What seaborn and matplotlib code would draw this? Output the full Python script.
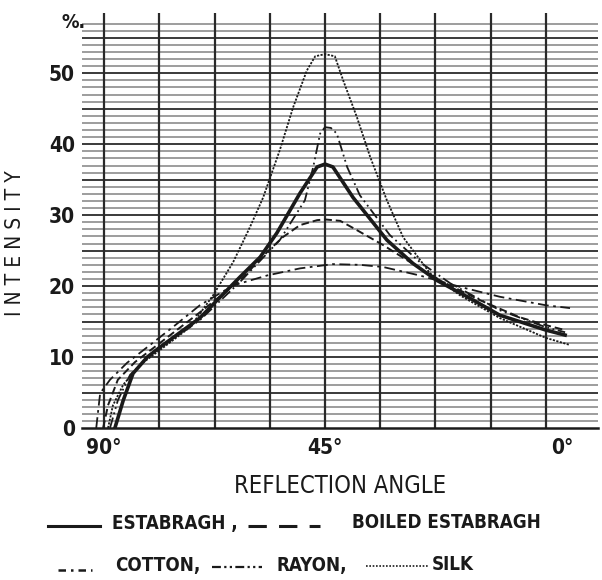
import matplotlib
matplotlib.use("Agg")
import matplotlib.pyplot as plt
import matplotlib.transforms as mtransforms
import seaborn as sns
import pandas as pd
from matplotlib.lines import Line2D

# values (angle in degrees, intensity in %)
silkAngle = [89.2, 88.2, 86.1, 82.7, 78.6, 72.5, 67.8, 63.7, 60.3, 57.6, 54.2, 51.5, 48.7, 47.0, 45.0, 43.0, 41.3, 38.5, 35.8, 32.4, 29.1, 23.6, 17.5, 9.4, 0.0, -4.9]
silkInt = [0, 3.2, 6.1, 8.9, 11.0, 14.2, 18.7, 23.4, 28.3, 32.5, 39.2, 45.2, 50.4, 52.4, 52.7, 52.4, 49.0, 43.8, 38.2, 32.1, 26.9, 21.8, 18.7, 15.5, 12.7, 11.7]

estAngle = [87.8, 86.1, 84.1, 81.2, 78.6, 70.5, 67.0, 62.3, 58.2, 54.8, 50.1, 46.6, 45.0, 43.4, 39.3, 32.4, 27.1, 22.2, 15.5, 9.4, 0.0, -3.9]
estInt = [0, 3.9, 7.7, 10.0, 11.4, 15.5, 18.0, 21.3, 24.1, 27.5, 33.1, 36.8, 37.2, 36.8, 32.5, 26.5, 23.2, 20.8, 18.3, 15.9, 13.8, 13.1]

rayonAngle = [88.8, 87.2, 84.7, 80.6, 70.5, 62.3, 54.2, 49.1, 47.4, 46.0, 45.0, 43.8, 42.6, 40.5, 37.9, 31.8, 25.7, 19.5, 9.4, 0.0, -3.9]
rayonInt = [0, 3.9, 7.5, 10.3, 15.2, 20.6, 26.5, 32.1, 36.8, 41.5, 42.4, 42.3, 41.5, 36.8, 32.8, 27.2, 23.4, 20.4, 16.6, 14.2, 13.5]

boiledAngle = [90.2, 89.2, 87.2, 83.7, 78.6, 70.5, 62.3, 56.8, 53.6, 50.1, 46.6, 45.0, 41.9, 39.3, 33.2, 27.7, 21.6, 13.4, 5.3, 0.0, -3.9]
boiledInt = [0, 3.2, 6.8, 9.3, 12.0, 16.3, 20.8, 24.8, 26.9, 28.6, 29.3, 29.4, 29.2, 28.2, 25.8, 23.4, 20.8, 18.0, 15.6, 14.5, 13.8]

cottonAngle = [91.6, 91.2, 90.8, 88.8, 85.3, 81.2, 75.5, 70.5, 63.7, 56.8, 50.1, 43.4, 37.9, 33.2, 25.7, 17.5, 9.4, 0.0, -4.9]
cottonInt = [0, 2.5, 4.9, 6.8, 9.2, 11.4, 14.5, 17.3, 20.1, 21.5, 22.5, 23.1, 23.0, 22.7, 21.5, 19.9, 18.5, 17.3, 16.9]

xTicks = [90, 45, 0]
xTickLabels = ["90°", "45°", "0°"]
yTicks = [0, 10, 20, 30, 40, 50]

ink = "#1a1a1a"
plain = dict(family=["DejaVu Sans"], fontstretch="condensed", color=ink)
heavy = dict(plain, fontweight="bold")

fig = plt.figure(figsize=(6.02, 5.80), dpi=100)
ax = fig.add_axes([82 / 602, 1 - 428 / 580, (598 - 82) / 602, (428 - 13) / 580])

# background chart paper
for v in range(1, 58):
    if v % 5 == 0:
        ax.axhline(v, color="#3a3a3a", lw=1.4, zorder=1)
    else:
        ax.axhline(v, color="#8c8c8c", lw=1.2, zorder=1)
for k in range(0, 9):
    ax.axvline(k * 11.25, color="#2a2a2a", lw=1.6, zorder=1)

# curves
curves = [
    ("Silk", silkAngle, silkInt, 1.3, (0, (1.2, 0.8))),
    ("Rayon", rayonAngle, rayonInt, 1.3, (0, (6, 2, 1, 2, 1, 2))),
    ("Cotton", cottonAngle, cottonInt, 1.3, (0, (6, 2.5, 1.5, 2.5))),
    ("Boiled Estabragh", boiledAngle, boiledInt, 1.4, (0, (4, 2))),
    ("Estabragh", estAngle, estInt, 2.6, "-"),
]
for name, a, i, w, ls in curves:
    df = pd.DataFrame({"angle": a, "intensity": i})
    sns.lineplot(data=df, x="angle", y="intensity", ax=ax, color=ink, lw=w,
                 linestyle=ls, estimator=None, sort=False, zorder=3)

ax.set_xlim(94.5, -10.6)
ax.set_ylim(0, 58.5)
ax.set_xticks(xTicks)
ax.set_xticklabels(xTickLabels, fontsize=15, **heavy)
ax.set_yticks(yTicks)
ax.set_yticklabels([str(t) for t in yTicks], fontsize=15, **heavy)
ax.tick_params(axis="x", length=0, pad=7)
ax.tick_params(axis="y", length=0, pad=5)
# the 0° lettering sits a little right of its line in the original
lab0 = ax.get_xticklabels()[2]
lab0.set_transform(lab0.get_transform() + mtransforms.ScaledTranslation(0.16, 0, fig.dpi_scale_trans))

ax.set_xlabel("REFLECTION ANGLE", fontsize=17, labelpad=12, **plain)
ax.set_ylabel("I N T E N S I T Y", fontsize=15, **plain)
ax.yaxis.set_label_coords(-0.11, 0.445)
for s in ["top", "right", "left"]:
    ax.spines[s].set_visible(False)
ax.spines["bottom"].set_color(ink)
ax.spines["bottom"].set_linewidth(1.8)

fig.text(62 / 602, 1 - 22 / 580, "%.", fontsize=14, va="center", **heavy)

# legend drawn like the original caption
def sample(x0, x1, y, ls, w):
    fig.add_artist(Line2D([x0 / 602, x1 / 602], [1 - y / 580, 1 - y / 580],
                          color=ink, lw=w, linestyle=ls))

def cap(x, y, s):
    fig.text(x / 602, 1 - y / 580, s, fontsize=13.5, va="center", ha="left", **heavy)

sample(48, 100, 526, "-", 2.2)
cap(112, 523, "ESTABRAGH ,")
sample(248, 320, 526, (0, (6, 4)), 2.2)
cap(352, 523, "BOILED ESTABRAGH")
sample(58, 92, 570, (0, (3, 2, 1, 2)), 1.8)
cap(115, 565, "COTTON,")
sample(212, 262, 567, (0, (4, 1.5, 1, 1.5, 1, 1.5)), 1.6)
cap(276, 565, "RAYON,")
sample(366, 428, 566, (0, (1, 1)), 1.2)
cap(432, 565, "SILK")

fig.savefig("out.png", dpi=100)
